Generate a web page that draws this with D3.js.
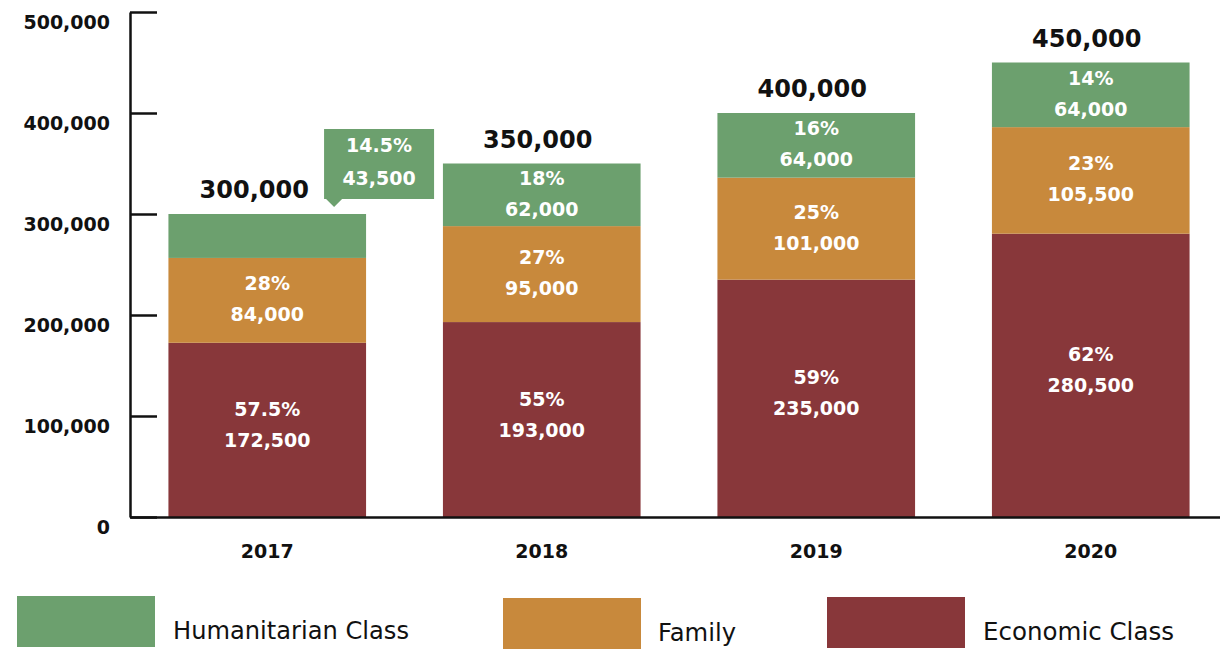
<!DOCTYPE html>
<html>
<head>
<meta charset="utf-8">
<script src="https://cdn.jsdelivr.net/npm/d3@7"></script>
<style>
  body { margin: 0; background: #fff; }
  text { font-family: "DejaVu Sans", sans-serif; }
</style>
</head>
<body>
<div id="container"></div>
<script>
// data
let years = ["2017", "2018", "2019", "2020"];
let economic = [172500, 193000, 235000, 280500];
let family = [84000, 95000, 101000, 105500];
let humanitarian = [43500, 62000, 64000, 64000];
let economicPct = ["57.5%", "55%", "59%", "62%"];
let familyPct = ["28%", "27%", "25%", "23%"];
let humanitarianPct = ["14.5%", "18%", "16%", "14%"];
let yTicks = [0, 100000, 200000, 300000, 400000, 500000];
let seriesNames = ["Humanitarian Class", "Family", "Economic Class"];

let w = 1220;
let h = 649;
let numFont = "'DejaVu Sans', sans-serif";
let colors = {
  economic: "#88373a",
  family: "#c8893c",
  humanitarian: "#6ca06e"
};

let viz = d3.select("#container")
  .append("svg")
    .attr("width", w)
    .attr("height", h);

let xScale = d3.scaleBand().domain(years).range([130, 1228])
  .paddingInner(0.28).paddingOuter(0.14);
let yScale = d3.scaleLinear().domain([0, 500000]).range([517, 12]);
let fmt = d3.format(",");

// build rows for stacking
let rows = years.map(function(y, i){
  return {
    year: y,
    economic: economic[i],
    family: family[i],
    humanitarian: humanitarian[i],
    pct: { economic: economicPct[i], family: familyPct[i], humanitarian: humanitarianPct[i] }
  };
});
let stack = d3.stack().keys(["economic", "family", "humanitarian"]);
let stacked = stack(rows);

// bars
let layers = viz.append("g").selectAll("g").data(stacked).enter()
  .append("g")
    .attr("fill", function(d){ return colors[d.key]; });

layers.selectAll("rect").data(function(d){ return d; }).enter()
  .append("rect")
    .attr("x", function(d){ return xScale(d.data.year); })
    .attr("y", function(d){ return yScale(d[1]); })
    .attr("width", xScale.bandwidth())
    .attr("height", function(d){ return yScale(d[0]) - yScale(d[1]); });

// labels inside segments (2017 humanitarian goes in a callout)
stacked.forEach(function(layer){
  layer.forEach(function(d){
    if (layer.key == "humanitarian" && d.data.year == "2017") return;
    let cx = xScale(d.data.year) + xScale.bandwidth() / 2;
    let cy = (yScale(d[0]) + yScale(d[1])) / 2 - (layer.key == "economic" ? 6 : 2);
    let g = viz.append("g").attr("fill", "#fff").attr("font-family", numFont)
      .attr("font-weight", 700).attr("font-size", 19).attr("text-anchor", "middle");
    g.append("text").attr("x", cx).attr("y", cy - 8).text(d.data.pct[layer.key]);
    g.append("text").attr("x", cx).attr("y", cy + 23).text(fmt(d.data[layer.key]));
  });
});

// callout for 2017 humanitarian
let top2017 = stacked[2][0];
let cbx = xScale("2017") + xScale.bandwidth() - 42;
let cby = yScale(top2017[1]) - 85;
viz.append("path")
  .attr("fill", colors.humanitarian)
  .attr("d", "M" + cbx + "," + cby + " h110 v70 h-92 l-8,8 l-8,-8 h-2 z");
viz.append("g").attr("fill", "#fff").attr("font-family", numFont)
  .attr("font-weight", 700).attr("font-size", 19).attr("text-anchor", "middle")
  .call(function(g){
    g.append("text").attr("x", cbx + 55).attr("y", cby + 23).text(humanitarianPct[0]);
    g.append("text").attr("x", cbx + 55).attr("y", cby + 56).text(fmt(humanitarian[0]));
  });

// totals above bars (first one nudged left, clear of the callout)
viz.append("g").selectAll("text").data(rows).enter()
  .append("text")
    .attr("x", function(d, i){ return xScale(d.year) + xScale.bandwidth() / 2 - (i == 0 ? 13 : 4); })
    .attr("y", function(d){ return yScale(d.economic + d.family + d.humanitarian) - 16; })
    .attr("text-anchor", "middle")
    .attr("font-family", numFont)
    .attr("font-weight", 700)
    .attr("font-size", 24)
    .attr("fill", "#111")
    .text(function(d){ return fmt(d.economic + d.family + d.humanitarian); });

// y axis
let yAxis = d3.axisLeft(yScale).tickValues(yTicks).tickFormat(fmt)
  .tickSizeInner(-27).tickSizeOuter(0).tickPadding(20);
let yAxisGroup = viz.append("g")
  .attr("transform", "translate(130,0)")
  .call(yAxis);
yAxisGroup.selectAll("line, path").attr("stroke", "#111").attr("stroke-width", 2.5);
yAxisGroup.selectAll("text")
  .attr("dy", "0.85em")
  .attr("font-size", 19)
  .attr("font-weight", 700)
  .attr("fill", "#111")
  .attr("font-family", numFont);

// x axis
let xAxis = d3.axisBottom(xScale).tickSize(0).tickPadding(28);
let xAxisGroup = viz.append("g")
  .attr("transform", "translate(0,517)")
  .call(xAxis);
xAxisGroup.select("path").attr("stroke", "#111").attr("stroke-width", 2.5);
xAxisGroup.selectAll("text")
  .attr("font-size", 19)
  .attr("font-weight", 700)
  .attr("fill", "#111")
  .attr("font-family", numFont);

// legend
let legendPos = [
  { x: 17, y: 596, key: "humanitarian", tx: 173, ty: 639, len: 236 },
  { x: 503, y: 598, key: "family", tx: 658, ty: 641, len: 78 },
  { x: 827, y: 597, key: "economic", tx: 983, ty: 640, len: 191 }
];
let legend = viz.append("g").selectAll("g").data(legendPos).enter().append("g");
legend.append("rect")
  .attr("x", function(d){ return d.x; })
  .attr("y", function(d){ return d.y; })
  .attr("width", 138)
  .attr("height", 51)
  .attr("fill", function(d){ return colors[d.key]; });
legend.append("text")
  .attr("x", function(d){ return d.tx; })
  .attr("y", function(d){ return d.ty; })
  .attr("font-size", 24)
  .attr("font-weight", 500)
  .attr("fill", "#111")
  .attr("font-family", "Roboto, sans-serif")
  .attr("textLength", function(d){ return d.len; })
  .attr("lengthAdjust", "spacingAndGlyphs")
  .text(function(d, i){ return seriesNames[i]; });
</script>
</body>
</html>
